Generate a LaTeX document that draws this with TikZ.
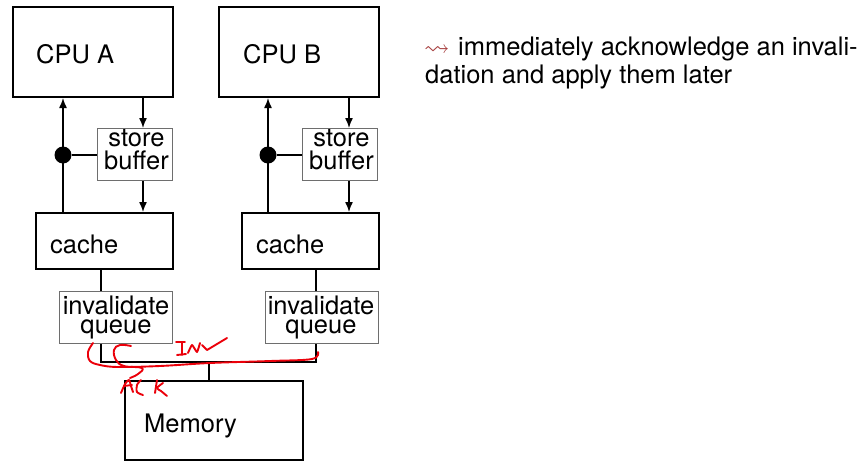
\documentclass[tikz,border=0pt]{standalone}
\usepackage{amssymb}
\usepackage{fontspec}
\setmainfont{TeX Gyre Heros}
\usetikzlibrary{arrows.meta}
\definecolor{leadred}{RGB}{165,60,60}
\definecolor{inkred}{RGB}{235,0,10}
\definecolor{thingray}{RGB}{110,110,110}

\tikzset{
  big/.style={draw, line width=2pt, inner sep=0pt, anchor=north west},
  mid/.style={draw, line width=1.5pt, inner sep=0pt, anchor=north west},
  small/.style={draw=thingray, line width=1pt, inner sep=0pt, anchor=north west},
  lbl/.style={inner sep=0pt, font=\fontsize{25.5}{23}\selectfont},
  pair/.style={inner sep=0pt, align=center},
  wire/.style={line width=1.4pt},
  flow/.style={line width=1.4pt, -{Latex[length=10pt,width=8pt]}},
  ink/.style={inkred, line width=1.9pt, line cap=round, line join=round},
}

\begin{document}
\begin{tikzpicture}[x=1pt,y=-1pt]
\useasboundingbox (0,0) rectangle (867,461);

% ---- CPU A column ----
\node[big, minimum width=160pt, minimum height=90pt] (cpuA) at (12,6) {};
\node[lbl, anchor=base west] (cpuAt) at (36,63) {CPU A};
\node[small, minimum width=75pt, minimum height=52pt] (sbA) at (97,128) {};
\node[pair, font=\fontsize{25.5}{23}\selectfont] (sbAt) at (136.5,150) {store\\buffer};
\node[mid, minimum width=137pt, minimum height=56pt] (cacheA) at (35,212) {};
\node[lbl, anchor=base west] (cacheAt) at (50,253) {cache};
\node[small, minimum width=113pt, minimum height=52pt] (iqA) at (59,291) {};
\node[pair, font=\fontsize{25.5}{18.5}\selectfont] (iqAt) at (116,317.5) {invalidate\\queue};

% ---- CPU B column ----
\node[big, minimum width=160pt, minimum height=90pt] (cpuB) at (218,6) {};
\node[lbl, anchor=base west] (cpuBt) at (243,63) {CPU B};
\node[small, minimum width=75pt, minimum height=52pt] (sbB) at (302,128) {};
\node[pair, font=\fontsize{25.5}{23}\selectfont] (sbBt) at (341.5,150) {store\\buffer};
\node[mid, minimum width=137pt, minimum height=56pt] (cacheB) at (241,212) {};
\node[lbl, anchor=base west] (cacheBt) at (256,253) {cache};
\node[small, minimum width=113pt, minimum height=52pt] (iqB) at (265,291) {};
\node[pair, font=\fontsize{25.5}{18.5}\selectfont] (iqBt) at (321,317.5) {invalidate\\queue};

% ---- memory ----
\node[big, minimum width=178pt, minimum height=79pt] (mem) at (124,380) {};
\node[lbl, anchor=base west] (memt) at (144,432) {Memory};

% ---- junction dots and column guides ----
\node[circle, fill, inner sep=0pt, minimum size=17pt] (dotA) at (63,155) {};
\node[circle, fill, inner sep=0pt, minimum size=17pt] (dotB) at (268,155) {};
\coordinate (downA) at (143,0);
\coordinate (downB) at (349,0);
\coordinate (linkA) at (101,0);
\coordinate (linkB) at (316,0);
\coordinate (busA) at (101,362);
\coordinate (busB) at (316,362);
\coordinate (busM) at (209,362);

% ---- connectors ----
\draw[flow] (cacheA.north -| dotA) -- (cpuA.south -| dotA);
\draw[wire] (dotA) -- (sbA.west |- dotA);
\draw[flow] (cpuA.south -| downA) -- (sbA.north -| downA);
\draw[flow] (sbA.south -| downA) -- (cacheA.north -| downA);
\draw[wire] (cacheA.south -| linkA) -- (iqA.north -| linkA);

\draw[flow] (cacheB.north -| dotB) -- (cpuB.south -| dotB);
\draw[wire] (dotB) -- (sbB.west |- dotB);
\draw[flow] (cpuB.south -| downB) -- (sbB.north -| downB);
\draw[flow] (sbB.south -| downB) -- (cacheB.north -| downB);
\draw[wire] (cacheB.south -| linkB) -- (iqB.north -| linkB);

\draw[wire] (iqA.south -| linkA) -- (busA) -- (busB) -- (iqB.south -| linkB);
\draw[wire] (busM) -- (mem.north -| busM);

% ---- side remark ----
\node[lbl, anchor=base west, text=leadred] (arr) at (424,55) {$\leadsto$};
\node[lbl, anchor=base west] (rem1) at (458,55) {immediately acknowledge an invali-};
\node[lbl, anchor=base west] (rem2) at (425,83) {dation and apply them later};

% ---- handwritten red notes ----
% long stroke along the bus
\draw[ink] plot[smooth, tension=0.6] coordinates
  {(93,343) (88,352) (90,361) (100,365) (118,367) (160,366) (210,363) (270,361) (312,359) (318,352)};
% hook from the first queue
\draw[ink] plot[smooth, tension=0.7] coordinates
  {(131,346) (120,345) (114,350) (116,360) (124,366) (142,368) (138,374) (130,378)};
% "INV" with a tick
\draw[ink] (176,342) -- (185,342);
\draw[ink] (182,342) -- (182,355);
\draw[ink] (177,355) -- (186,354);
\draw[ink] plot[smooth, tension=0.3] coordinates {(188,353) (192,345) (197,352) (200,343)};
\draw[ink] (202,345) -- (207,350) -- (227,338);
% "ACK"
\draw[ink] plot[smooth, tension=0.4] coordinates {(121,393) (125,384) (129,380) (131,386) (133,392)};
\draw[ink] (124,386) -- (132,385);
\draw[ink] plot[smooth, tension=0.5] coordinates {(141,380) (137,385) (137,392) (143,395)};
\draw[ink] (157,380) -- (155,393);
\draw[ink] plot[smooth, tension=0.5] coordinates {(163,383) (157,388) (161,391) (167,396)};
\end{tikzpicture}
\end{document}
